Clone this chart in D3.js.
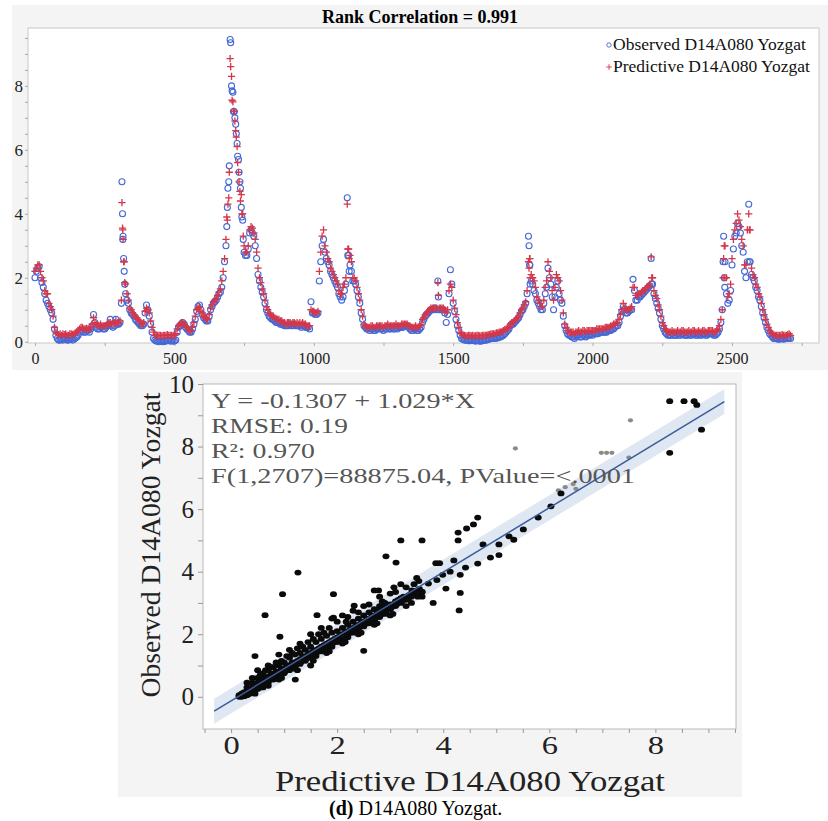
<!DOCTYPE html>
<html>
<head>
<meta charset="utf-8">
<script src="https://cdnjs.cloudflare.com/ajax/libs/d3/7.8.5/d3.min.js"></script>
<style>
  body { margin: 0; background: #fff; }
  svg { display: block; }
  text { font-family: "Liberation Serif", "Times New Roman", serif; }
</style>
</head>
<body>
<div id="container"></div>
<script>
// ---- top chart: series read every 5 observations (index 0..2710)
const step = 5;
const observed = [
  2.0, 2.2, 2.3, 2.35, 2.0, 1.85, 1.7, 1.5, 1.3, 1.2, 1.1, 1.0, 0.9, 0.7, 0.4, 0.2, 0.1, 0.05, 0.05, 0.08,
  0.05, 0.1, 0.08, 0.05, 0.05, 0.1, 0.1, 0.05, 0.08, 0.12, 0.15, 0.2, 0.3, 0.35, 0.35, 0.3, 0.3, 0.35, 0.35, 0.3,
  0.4, 0.5, 0.85, 0.6, 0.45, 0.4, 0.4, 0.45, 0.45, 0.4, 0.4, 0.45, 0.5, 0.55, 0.7, 0.5, 0.45, 0.5, 0.7, 0.55,
  0.55, 0.6, 1.2, 3.2, 2.2, 1.5, 1.3, 1.2, 1.0, 0.9, 0.85, 0.8, 0.7, 0.65, 0.6, 0.55, 0.5, 0.5, 0.55, 0.9,
  1.15, 1.0, 0.8, 0.55, 0.3, 0.1, 0.05, 0.02, 0.02, 0.0, 0.03, 0.02, 0.0, 0.02, 0.02, 0.05, 0.05, 0.02, 0.03, 0.02,
  0.02, 0.05, 0.3, 0.45, 0.5, 0.55, 0.6, 0.55, 0.45, 0.4, 0.35, 0.3, 0.3, 0.4, 0.55, 0.7, 0.95, 1.1, 1.15, 1.0,
  0.85, 0.75, 0.7, 0.65, 0.65, 0.8, 1.0, 1.1, 1.2, 1.25, 1.3, 1.4, 1.5, 1.55, 1.7, 2.0, 2.5, 3.0, 4.2, 5.0,
  9.45, 8.0, 7.8, 7.2, 6.8, 6.2, 5.7, 5.0, 4.2, 3.8, 2.8, 2.7, 2.7, 2.9, 3.4, 3.5, 3.4, 3.3, 3.0, 2.6,
  2.1, 1.9, 1.7, 1.55, 1.4, 1.2, 1.0, 0.9, 0.8, 0.75, 0.7, 0.7, 0.65, 0.6, 0.6, 0.6, 0.55, 0.55, 0.55, 0.5,
  0.5, 0.5, 0.5, 0.55, 0.5, 0.5, 0.55, 0.5, 0.5, 0.5, 0.5, 0.45, 0.5, 0.5, 0.45, 0.45, 0.45, 0.4, 1.25, 0.9,
  0.9, 0.85, 0.85, 0.9, 1.9, 2.5, 3.0, 3.2, 2.8, 2.6, 2.5, 2.4, 2.2, 2.1, 2.0, 1.9, 1.8, 1.7, 1.5, 1.4,
  1.3, 1.4, 1.6, 1.8, 4.5, 2.7, 2.4, 2.2, 1.9, 1.9, 1.8, 1.6, 1.4, 1.2, 0.9, 0.7, 0.5, 0.45, 0.4, 0.4,
  0.35, 0.4, 0.4, 0.35, 0.35, 0.4, 0.4, 0.45, 0.4, 0.4, 0.35, 0.4, 0.4, 0.45, 0.4, 0.4, 0.45, 0.4, 0.4, 0.45,
  0.4, 0.45, 0.45, 0.45, 0.45, 0.5, 0.5, 0.5, 0.45, 0.4, 0.35, 0.35, 0.4, 0.4, 0.35, 0.35, 0.4, 0.45, 0.6, 0.7,
  0.8, 0.85, 0.9, 0.95, 1.0, 1.0, 1.0, 1.05, 1.0, 1.9, 1.0, 1.0, 1.0, 1.0, 0.9, 0.6, 0.85, 1.5, 2.25, 1.8,
  1.2, 0.95, 0.7, 0.5, 0.35, 0.2, 0.1, 0.08, 0.05, 0.05, 0.05, 0.03, 0.03, 0.05, 0.05, 0.03, 0.02, 0.03, 0.03, 0.02,
  0.02, 0.03, 0.05, 0.05, 0.05, 0.08, 0.08, 0.1, 0.1, 0.1, 0.1, 0.12, 0.12, 0.15, 0.15, 0.18, 0.2, 0.25, 0.3, 0.35,
  0.4, 0.5, 0.55, 0.55, 0.6, 0.65, 0.7, 0.75, 0.85, 0.95, 1.0, 1.1, 1.2, 1.5, 3.3, 2.4, 1.9, 1.8, 1.6, 1.5,
  1.3, 1.2, 1.1, 1.0, 1.0, 1.2, 1.5, 1.7, 2.3, 2.0, 1.8, 1.4, 1.0, 1.4, 1.7, 1.9, 1.5, 1.3, 1.2, 0.8,
  0.5, 0.35, 0.25, 0.2, 0.2, 0.15, 0.15, 0.1, 0.15, 0.2, 0.2, 0.15, 0.15, 0.2, 0.2, 0.15, 0.2, 0.2, 0.2, 0.25,
  0.2, 0.25, 0.25, 0.25, 0.25, 0.3, 0.3, 0.3, 0.3, 0.3, 0.3, 0.35, 0.35, 0.35, 0.4, 0.4, 0.45, 0.5, 0.5, 0.6,
  0.8, 0.95, 1.1, 1.0, 0.9, 0.9, 0.95, 1.0, 1.0, 1.95, 1.6, 1.3, 1.3, 1.4, 1.4, 1.45, 1.5, 1.55, 1.6, 1.65,
  1.7, 1.75, 2.6, 1.8, 1.5, 1.35, 1.2, 1.05, 0.9, 0.7, 0.5, 0.4, 0.3, 0.25, 0.2, 0.2, 0.2, 0.25, 0.2, 0.2,
  0.2, 0.25, 0.2, 0.2, 0.25, 0.25, 0.2, 0.2, 0.2, 0.25, 0.2, 0.2, 0.25, 0.25, 0.2, 0.2, 0.25, 0.2, 0.2, 0.25,
  0.25, 0.2, 0.2, 0.25, 0.25, 0.25, 0.25, 0.2, 0.2, 0.25, 0.3, 0.4, 0.6, 1.0, 3.3, 2.5, 1.5, 1.2, 1.3, 1.6,
  2.4, 2.9, 3.3, 3.4, 3.7, 3.6, 3.4, 3.0, 2.8, 2.2, 2.0, 2.5, 4.3, 2.5, 2.1, 2.0, 1.9, 1.7, 1.6, 1.4,
  1.3, 1.1, 0.9, 0.75, 0.6, 0.45, 0.35, 0.25, 0.2, 0.15, 0.1, 0.1, 0.1, 0.08, 0.08, 0.1, 0.1, 0.08, 0.1, 0.1,
  0.1, 0.12, 0.1
];
const predicted = [
  2.2, 2.3, 2.4, 2.4, 2.2, 2.0, 1.9, 1.6, 1.5, 1.5, 1.2, 1.1, 1.0, 0.8, 0.45, 0.3, 0.25, 0.22, 0.25, 0.2,
  0.25, 0.22, 0.25, 0.2, 0.2, 0.25, 0.25, 0.22, 0.25, 0.28, 0.3, 0.35, 0.4, 0.45, 0.45, 0.4, 0.4, 0.42, 0.4, 0.38,
  0.45, 0.55, 0.75, 0.6, 0.55, 0.5, 0.5, 0.55, 0.5, 0.5, 0.5, 0.5, 0.55, 0.6, 0.6, 0.55, 0.55, 0.6, 0.65, 0.6,
  0.6, 0.65, 1.3, 3.5, 2.5, 1.8, 1.5, 1.3, 1.05, 1.0, 0.9, 0.85, 0.8, 0.75, 0.7, 0.65, 0.55, 0.55, 0.6, 0.95,
  1.05, 1.0, 0.9, 0.65, 0.45, 0.3, 0.2, 0.18, 0.2, 0.2, 0.2, 0.18, 0.2, 0.2, 0.2, 0.22, 0.2, 0.2, 0.2, 0.18,
  0.2, 0.25, 0.4, 0.5, 0.55, 0.6, 0.6, 0.55, 0.5, 0.45, 0.4, 0.35, 0.35, 0.45, 0.6, 0.8, 1.0, 1.05, 1.1, 0.95,
  0.9, 0.8, 0.75, 0.7, 0.7, 0.85, 1.05, 1.15, 1.25, 1.3, 1.35, 1.45, 1.55, 1.65, 1.9, 2.2, 2.6, 3.2, 3.8, 4.5,
  8.85, 8.3, 7.5, 7.2, 6.6, 6.1, 5.3, 4.7, 4.6, 4.0, 3.0, 2.8, 2.8, 3.0, 3.5, 3.6, 3.55, 3.4, 3.2, 2.8,
  2.3, 2.0, 1.85, 1.65, 1.5, 1.3, 1.1, 1.0, 0.9, 0.85, 0.8, 0.8, 0.75, 0.7, 0.7, 0.7, 0.65, 0.65, 0.6, 0.6,
  0.55, 0.6, 0.6, 0.6, 0.55, 0.6, 0.6, 0.55, 0.6, 0.55, 0.6, 0.55, 0.6, 0.55, 0.55, 0.5, 0.5, 0.5, 1.0, 0.95,
  0.95, 0.9, 0.9, 0.95, 2.2, 2.8, 3.3, 3.5, 3.0, 2.8, 2.6, 2.5, 2.3, 2.2, 2.1, 2.0, 1.9, 1.8, 1.6, 1.5,
  1.5, 1.7, 1.8, 2.0, 4.3, 2.9, 2.7, 2.5, 2.0, 2.0, 1.9, 1.7, 1.5, 1.3, 1.0, 0.8, 0.55, 0.5, 0.45, 0.45,
  0.45, 0.5, 0.5, 0.45, 0.45, 0.5, 0.5, 0.5, 0.5, 0.5, 0.45, 0.5, 0.5, 0.55, 0.5, 0.5, 0.5, 0.5, 0.5, 0.55,
  0.5, 0.5, 0.5, 0.55, 0.55, 0.55, 0.55, 0.55, 0.5, 0.5, 0.45, 0.45, 0.45, 0.5, 0.45, 0.45, 0.5, 0.55, 0.7, 0.75,
  0.85, 0.9, 0.95, 1.0, 1.05, 1.05, 1.05, 1.05, 1.05, 1.85, 1.05, 1.05, 1.05, 1.05, 1.0, 0.9, 1.0, 1.6, 1.8, 1.7,
  1.3, 1.05, 0.85, 0.6, 0.45, 0.3, 0.25, 0.2, 0.2, 0.18, 0.18, 0.2, 0.2, 0.18, 0.2, 0.18, 0.18, 0.2, 0.2, 0.18,
  0.18, 0.2, 0.2, 0.2, 0.2, 0.22, 0.22, 0.25, 0.25, 0.25, 0.25, 0.28, 0.28, 0.3, 0.3, 0.32, 0.35, 0.38, 0.4, 0.42,
  0.45, 0.55, 0.6, 0.6, 0.65, 0.7, 0.75, 0.8, 0.9, 1.0, 1.05, 1.15, 1.25, 1.6, 2.5, 2.6, 2.1, 2.0, 1.9, 1.7,
  1.4, 1.3, 1.2, 1.1, 1.1, 1.3, 1.7, 1.9, 2.5, 2.2, 2.0, 1.6, 1.3, 1.7, 2.1, 2.0, 1.9, 1.6, 1.3, 0.9,
  0.55, 0.45, 0.35, 0.3, 0.3, 0.3, 0.3, 0.25, 0.3, 0.3, 0.35, 0.3, 0.3, 0.35, 0.35, 0.3, 0.35, 0.35, 0.35, 0.35,
  0.35, 0.35, 0.35, 0.4, 0.4, 0.4, 0.4, 0.4, 0.4, 0.45, 0.45, 0.45, 0.45, 0.5, 0.5, 0.55, 0.55, 0.6, 0.6, 0.7,
  0.85, 1.0, 1.2, 1.05, 1.0, 1.0, 1.0, 1.05, 1.1, 1.7, 1.7, 1.45, 1.45, 1.5, 1.5, 1.55, 1.6, 1.6, 1.65, 1.7,
  1.75, 1.8, 2.65, 2.0, 1.6, 1.45, 1.35, 1.15, 1.0, 0.8, 0.6, 0.5, 0.4, 0.35, 0.3, 0.3, 0.3, 0.35, 0.3, 0.3,
  0.3, 0.35, 0.3, 0.3, 0.35, 0.35, 0.3, 0.3, 0.3, 0.35, 0.3, 0.3, 0.35, 0.35, 0.3, 0.3, 0.35, 0.3, 0.3, 0.35,
  0.35, 0.3, 0.3, 0.35, 0.35, 0.35, 0.35, 0.3, 0.3, 0.35, 0.4, 0.5, 0.7, 1.0, 2.6, 3.0, 2.0, 1.4, 1.5, 1.8,
  2.6, 3.2, 3.5, 3.7, 4.0, 3.8, 3.6, 3.2, 3.0, 2.4, 2.4, 3.5, 4.0, 3.5, 2.3, 2.1, 2.0, 1.8, 1.7, 1.5,
  1.4, 1.2, 1.0, 0.85, 0.7, 0.55, 0.45, 0.35, 0.3, 0.25, 0.2, 0.2, 0.2, 0.2, 0.2, 0.2, 0.22, 0.2, 0.2, 0.2,
  0.22, 0.25, 0.2
];
// extra observations inside the sharp peaks: [index, observed, predicted]
const peakPoints = [
  [312, 5.0, 4.35], [314, 4.0, 3.55], [316, 3.3, 3.2], [318, 2.6, 2.5], [322, 1.8, 1.85],
  [688, 3.6, 3.9], [692, 4.8, 4.3], [697, 5.5, 5.3], [702, 9.35, 8.6], [707, 7.85, 7.55],
  [712, 7.2, 7.2], [717, 7.0, 6.9], [722, 6.5, 6.4], [727, 5.8, 5.6], [732, 5.3, 5.0],
  [737, 4.8, 4.4], [742, 3.9, 4.0], [747, 3.2, 3.3], [1122, 2.7, 2.9], [1127, 2.2, 2.6],
  [1447, 1.4, 1.45], [1772, 3.0, 2.3], [1774, 2.4, 2.6], [1776, 1.8, 2.0], [2212, 1.8, 2.0],
  [2468, 2.5, 2.0], [2472, 2.0, 3.0], [2474, 1.7, 2.0], [2562, 2.5, 3.5]
];
const topXTicks = [0, 500, 1000, 1500, 2000, 2500];
const topYTicks = [0, 2, 4, 6, 8];

// ---- bottom chart: [predicted, observed]
const clusterPoints = [
  [0.15,0.0],[0.15,0.05],[0.2,0.0],[0.2,0.1],[0.25,0.02],[0.25,0.15],[0.3,0.05],[0.3,0.2],[0.3,0.3],
  [0.35,0.1],[0.35,0.25],[0.4,0.15],[0.4,0.3],[0.4,0.45],[0.45,0.2],[0.45,0.35],[0.5,0.25],[0.5,0.45],
  [0.5,0.6],[0.55,0.3],[0.55,0.5],[0.6,0.35],[0.6,0.55],[0.6,0.75],[0.65,0.45],[0.65,0.6],[0.7,0.45],
  [0.7,0.65],[0.7,0.85],[0.75,0.55],[0.75,0.7],[0.8,0.55],[0.8,0.75],[0.8,0.95],[0.85,0.65],[0.85,0.8],
  [0.9,0.65],[0.9,0.8],[0.9,1.0],[0.95,0.75],[0.95,0.9],[1.0,0.75],[1.0,0.9],[1.0,1.1],[1.05,0.85],
  [1.05,1.0],[1.1,0.85],[1.1,1.0],[1.1,1.25],[1.15,0.95],[1.15,1.1],[1.2,0.95],[1.2,1.1],[1.2,1.35],
  [1.3,1.05],[1.3,1.2],[1.3,1.4],[1.4,1.15],[1.4,1.3],[1.4,1.5],[1.5,1.25],[1.5,1.4],[1.5,1.6],
  [1.6,1.3],[1.6,1.5],[1.6,1.75],[1.7,1.45],[1.7,1.6],[1.7,1.85],[1.8,1.55],[1.8,1.7],[1.8,1.95],
  [1.9,1.6],[1.9,1.8],[1.9,2.05],[2.0,1.75],[2.0,1.9],[2.0,2.1],[2.1,1.85],[2.1,2.0],[2.1,2.2],
  [2.2,1.9],[2.2,2.1],[2.2,2.3],[2.3,2.05],[2.3,2.2],[2.3,2.4],[2.4,2.1],[2.4,2.3],[2.4,2.5],
  [2.5,2.25],[2.5,2.4],[2.5,2.6],[2.6,2.35],[2.6,2.5],[2.6,2.7],[2.7,2.45],[2.7,2.6],[2.7,2.8],
  [2.8,2.55],[2.8,2.75],[2.8,2.9],[2.9,2.65],[2.9,2.85],[2.9,3.0],[3.0,2.8],[3.0,2.95],[3.1,2.9],
  [3.1,3.05],[3.2,3.0],[3.2,3.15],[3.3,3.1],[3.3,3.2],[3.4,3.2],[3.4,3.3],[3.5,3.3],[3.5,3.4],[3.6,3.35],
  [0.175,0.03],[0.225,0.08],[0.275,0.1],[0.325,0.15],[0.375,0.2],[0.425,0.25],[0.475,0.3],[0.525,0.38],
  [0.575,0.42],[0.625,0.5],[0.675,0.55],[0.725,0.6],[0.775,0.65],[0.825,0.7],[0.875,0.75],[0.925,0.8],
  [0.975,0.85],[1.025,0.9],[1.075,0.95],[1.125,1.0],[1.175,1.05],[1.25,1.15],[1.35,1.25],[1.45,1.35],
  [1.55,1.45],[1.65,1.55],[1.75,1.65],[1.85,1.75],[1.95,1.85],[2.05,1.95],[2.15,2.05],[2.25,2.15],
  [2.35,2.25],[2.45,2.35],[2.55,2.45],[2.65,2.55],[2.75,2.65],[2.85,2.8],[2.95,2.9],[3.05,2.95],
  [3.15,3.1],[3.25,3.2],[3.35,3.25],[3.45,3.35],[3.55,3.3],
  [0.22,0.12],[0.32,0.08],[0.42,0.2],[0.52,0.3],[0.62,0.42],[0.72,0.55],[0.82,0.62],[0.92,0.72],
  [1.02,0.82],[1.12,0.92],[1.22,1.02],[1.32,1.12],[1.42,1.22],[1.52,1.32],[1.62,1.42],[1.72,1.52],
  [1.82,1.62],[1.92,1.72],[2.02,1.82],[2.12,1.95],[2.22,2.02],[2.32,2.12],[2.42,2.22],[2.52,2.32],
  [2.62,2.42],[2.72,2.52],[2.82,2.62],[2.92,2.72],[3.02,2.85],[3.12,2.95],[3.22,3.05],[3.32,3.15],
  [3.42,3.25],[3.52,3.2]
];
const haloPoints = [
  [0.5,0.85],[0.7,1.0],[0.9,1.35],[1.1,1.5],[1.3,1.7],[1.5,2.0],[1.7,2.2],[1.9,2.5],[2.1,2.6],
  [2.3,2.75],[2.5,2.9],[2.8,3.2],[3.0,3.3],[3.2,3.6],[3.5,3.8],[0.6,0.3],[0.9,0.55],[1.2,0.9],
  [1.5,1.0],[1.8,1.4],[2.1,1.7],[2.4,2.0],[2.7,2.3],[3.0,2.6],[3.3,2.9],[3.6,3.2],
  [0.3,0.45],[0.4,0.6],[0.55,0.7],[0.65,0.85],[0.75,0.95],[0.85,1.1],[0.95,1.15],[1.05,1.3],
  [1.15,1.4],[1.25,1.55],[1.35,1.6],[1.45,1.75],[1.55,1.85],[1.65,2.0],[1.75,2.05],[1.85,2.2],
  [2.0,2.4],[2.2,2.55],[2.4,2.7],[2.6,2.95],[2.85,3.05],[3.1,3.35],[3.3,3.5],[3.45,3.6],
  [0.45,0.1],[0.7,0.35],[0.95,0.6],[1.25,0.85],[1.55,1.15],[1.85,1.45],[2.15,1.75],[2.45,2.05],
  [2.75,2.35],[3.05,2.65],[3.4,3.0],[3.6,3.35],[3.55,3.45]
];
const outlierPoints = [
  [8.27,9.45],[8.54,9.45],[8.73,9.45],[8.78,9.33],[8.87,8.54],[8.27,7.8],[6.22,6.5],[6.03,6.09],
  [5.79,5.73],[5.51,5.35],[5.33,5.02],[5.24,5.13],[5.05,4.87],[5.05,4.53],[4.89,4.45],[4.75,4.87],
  [4.65,4.26],[4.65,5.73],[4.57,5.51],[4.44,5.38],[4.28,5.25],[4.28,5.0],[4.42,4.13],[4.32,3.9],
  [4.32,3.32],[4.3,2.76],[4.2,4.36],[4.13,4.0],[4.05,3.46],[3.99,3.9],[3.86,4.27],[3.93,4.27],
  [3.81,3.0],[3.72,3.62],[3.88,3.73],[3.54,3.7],[3.6,5.0],[3.2,5.0],[2.92,4.49],[3.11,4.29],
  [1.26,3.97],[1.93,3.28],[0.97,3.28],[0.64,2.61],[1.62,2.61],[0.92,1.92],[0.45,1.3],[1.21,0.55],
  [2.5,1.47],[2.7,3.4],[2.78,3.4],[2.32,2.91],[1.93,2.53],[2.17,2.4],[3.07,3.5],[3.34,3.13],[3.41,3.4]
];
const greyPoints = [
  [5.36,7.94],[7.53,8.84],[6.98,7.8],[7.08,7.8],[7.18,7.8],[7.5,7.65],[6.17,6.6],[6.3,6.7],[6.45,6.8],[6.5,6.65]
];
const fitIntercept = -0.1307, fitSlope = 1.029, bandHalf = 0.4;
const fitText = ['Y = -0.1307 + 1.029*X', 'RMSE: 0.19', 'R\u00B2: 0.970', 'F(1,2707)=88875.04, PValue=<.0001'];
const fitTextWidth = [264, 137, 104, 424];
const botXTicks = [0, 2, 4, 6, 8];
const botYTicks = [0, 2, 4, 6, 8, 10];

const W = 828, H = 821;
const svg = d3.select('#container').append('svg').attr('width', W).attr('height', H);

// panel backgrounds
svg.append('rect').attr('x', 12).attr('y', 5).attr('width', 816).attr('height', 365).attr('fill', '#f4f4f4');
svg.append('rect').attr('x', 118).attr('y', 372).attr('width', 624).attr('height', 425).attr('fill', '#f4f4f4');

// ================= top chart =================
const x1 = d3.scaleLinear().domain([-25, 2812]).range([28, 819]);
const y1 = d3.scaleLinear().domain([-0.04, 9.81]).range([343, 28]);

svg.append('rect')
   .attr('x', x1.range()[0]).attr('y', y1.range()[1])
   .attr('width', x1.range()[1] - x1.range()[0])
   .attr('height', y1.range()[0] - y1.range()[1])
   .attr('fill', '#fff').attr('stroke', '#c8c8c8');

svg.append('text')
   .attr('x', 420).attr('y', 22.5)
   .attr('text-anchor', 'middle')
   .attr('font-size', 18).attr('font-weight', 'bold')
   .text('Rank Correlation = 0.991');

const gx1 = svg.append('g')
   .attr('transform', `translate(0,${y1.range()[0]})`)
   .call(d3.axisBottom(x1).tickValues(d3.range(0, 2751, 250)).tickSize(3)
     .tickFormat(d => topXTicks.includes(d) ? d : ''));
gx1.select('.domain').remove();
gx1.selectAll('line').attr('stroke', '#aaa');
gx1.selectAll('text').attr('y', 21).attr('dy', 0).attr('font-size', 16).attr('fill', '#222')
   .style('font-family', '"Liberation Serif", serif');

const gy1 = svg.append('g')
   .attr('transform', `translate(${x1.range()[0]},0)`)
   .call(d3.axisLeft(y1).tickValues(d3.range(0, 9.6, 0.5)).tickSize(3).tickPadding(2)
     .tickFormat(d => topYTicks.includes(d) ? d : ''));
gy1.select('.domain').remove();
gy1.selectAll('line').attr('stroke', '#aaa');
gy1.selectAll('text').attr('font-size', 17).attr('fill', '#222')
   .style('font-family', '"Liberation Serif", serif');

const rows = observed.map((d, i) => ({ idx: i * step, obs: d, pred: predicted[i] }))
  .concat(peakPoints.map(p => ({ idx: p[0], obs: p[1], pred: p[2] })));

const blue = '#4468d6', red = '#d4374a';
const plus = 'M-3.6,0H3.6M0,-3.6V3.6';

svg.append('g').selectAll('circle')
   .data(rows).enter().append('circle')
   .attr('cx', d => x1(d.idx)).attr('cy', d => y1(d.obs))
   .attr('r', 3).attr('fill', 'none').attr('stroke', blue).attr('stroke-width', 1.1);

svg.append('g').selectAll('path')
   .data(rows).enter().append('path')
   .attr('d', plus)
   .attr('transform', d => `translate(${x1(d.idx)},${y1(d.pred)})`)
   .attr('stroke', red).attr('stroke-width', 1.3).attr('fill', 'none');

// legend
const lg = svg.append('g');
lg.append('circle').attr('cx', 609).attr('cy', 45).attr('r', 2.2)
  .attr('fill', 'none').attr('stroke', blue).attr('stroke-width', 0.9);
lg.append('path').attr('d', 'M-2.8,0H2.8M0,-2.8V2.8').attr('transform', 'translate(609,67)')
  .attr('stroke', red).attr('stroke-width', 0.9);
lg.append('text').attr('x', 613).attr('y', 49.5).attr('font-size', 17.5).attr('fill', '#111')
  .text('Observed D14A080 Yozgat');
lg.append('text').attr('x', 613).attr('y', 71.5).attr('font-size', 17.5).attr('fill', '#111')
  .text('Predictive D14A080 Yozgat');

// ================= bottom chart =================
const x2 = d3.scaleLinear().domain([-0.53, 9.52]).range([203, 736]);
const y2 = d3.scaleLinear().domain([-1.03, 10]).range([729, 384]);

svg.append('rect')
   .attr('x', x2.range()[0]).attr('y', y2.range()[1])
   .attr('width', x2.range()[1] - x2.range()[0])
   .attr('height', y2.range()[0] - y2.range()[1])
   .attr('fill', '#fff').attr('stroke', '#b8b8b8');

svg.append('clipPath').attr('id', 'clip2').append('rect')
   .attr('x', x2.range()[0]).attr('y', y2.range()[1])
   .attr('width', x2.range()[1] - x2.range()[0])
   .attr('height', y2.range()[0] - y2.range()[1]);

const fit = v => fitIntercept + fitSlope * v;
const fitX = [-0.32, 9.3];
const plot2 = svg.append('g').attr('clip-path', 'url(#clip2)');

plot2.append('path')
   .datum(fitX)
   .attr('d', d3.area().x(d => x2(d)).y0(d => y2(fit(d) - bandHalf)).y1(d => y2(fit(d) + bandHalf)))
   .attr('fill', '#dfe7f2');

plot2.append('g').selectAll('ellipse')
   .data(greyPoints).enter().append('ellipse')
   .attr('cx', d => x2(d[0])).attr('cy', d => y2(d[1]))
   .attr('rx', 2.6).attr('ry', 2.1).attr('fill', '#8a8a8a');

plot2.append('g').selectAll('ellipse')
   .data(clusterPoints.concat(haloPoints, outlierPoints)).enter().append('ellipse')
   .attr('cx', d => x2(d[0])).attr('cy', d => y2(d[1]))
   .attr('rx', 3.5).attr('ry', 2.9).attr('fill', '#0b0b0b');

plot2.append('path')
   .datum(fitX)
   .attr('d', d3.line().x(d => x2(d)).y(d => y2(fit(d))))
   .attr('stroke', '#3a5c9c').attr('stroke-width', 1.5).attr('fill', 'none');

// fit statistics
fitText.forEach((t, i) => {
  svg.append('text')
     .attr('x', 211).attr('y', 408 + i * 25)
     .attr('font-size', 22).attr('fill', '#555')
     .attr('textLength', fitTextWidth[i]).attr('lengthAdjust', 'spacingAndGlyphs')
     .text(t);
});

const gx2 = svg.append('g')
   .attr('transform', `translate(0,${y2.range()[0]})`)
   .call(d3.axisBottom(x2).tickValues(d3.range(-0.5, 9.6, 0.5)).tickSize(4)
     .tickFormat(d => botXTicks.includes(d) ? d : ''));
gx2.select('.domain').remove();
gx2.selectAll('line').attr('stroke', '#999');
gx2.selectAll('text').attr('y', 25).attr('dy', 0).attr('font-size', 25).attr('fill', '#222')
   .attr('transform', 'scale(1.3,1)')
   .style('font-family', '"Liberation Serif", serif');

const gy2 = svg.append('g')
   .attr('transform', `translate(${x2.range()[0]},0)`)
   .call(d3.axisLeft(y2).tickValues(d3.range(0, 10.1, 1)).tickSize(5).tickPadding(4)
     .tickFormat(d => botYTicks.includes(d) ? d : ''));
gy2.select('.domain').remove();
gy2.selectAll('line').attr('stroke', '#999');
gy2.selectAll('text').attr('font-size', 25).attr('fill', '#222')
   .style('font-family', '"Liberation Serif", serif');

svg.append('text')
   .attr('x', 470).attr('y', 791)
   .attr('text-anchor', 'middle').attr('font-size', 29).attr('fill', '#222')
   .attr('textLength', 390).attr('lengthAdjust', 'spacingAndGlyphs')
   .text('Predictive D14A080 Yozgat');

svg.append('text')
   .attr('transform', 'translate(160,545) rotate(-90)')
   .attr('text-anchor', 'middle').attr('font-size', 28).attr('fill', '#222')
   .attr('textLength', 305).attr('lengthAdjust', 'spacingAndGlyphs')
   .text('Observed D14A080 Yozgat');

// caption
const cap = svg.append('text').attr('x', 329).attr('y', 815).attr('font-size', 20).attr('fill', '#000');
cap.append('tspan').attr('font-weight', 'bold').text('(d)');
cap.append('tspan').text(' D14A080 Yozgat.');
</script>
</body>
</html>
